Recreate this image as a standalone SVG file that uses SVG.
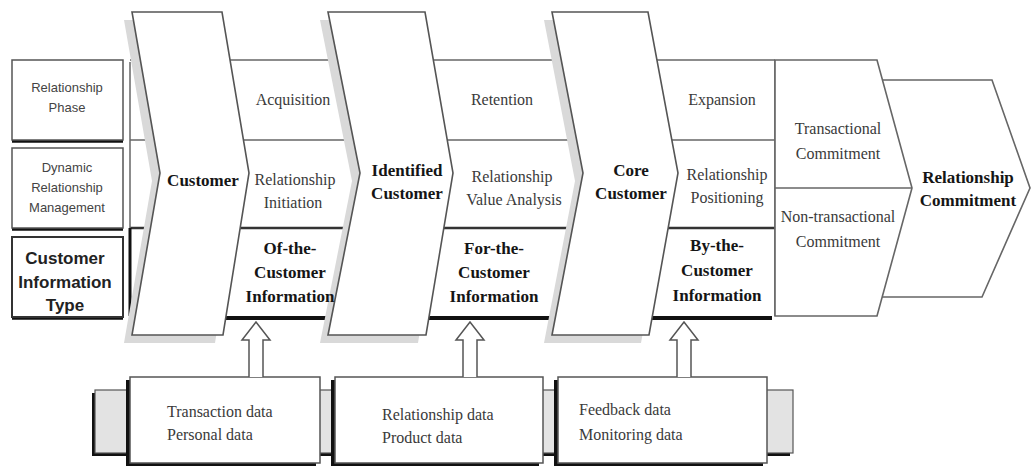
<svg xmlns="http://www.w3.org/2000/svg" width="1031" height="469" viewBox="0 0 1031 469">
<style>
.ser{font-family:"Liberation Serif","Times New Roman",serif;font-size:16px;fill:#3a3a3a;text-anchor:middle}
.serb{font-family:"Liberation Serif","Times New Roman",serif;font-size:17px;font-weight:bold;fill:#151515;text-anchor:middle}
.dat{font-family:"Liberation Serif","Times New Roman",serif;font-size:16px;fill:#3a3a3a}
.sans{font-family:"Liberation Sans",Arial,sans-serif;font-size:13px;fill:#444;text-anchor:middle}
.sansb{font-family:"Liberation Sans",Arial,sans-serif;font-size:17px;font-weight:bold;fill:#222;text-anchor:middle}
.box{fill:#fff;stroke:#555;stroke-width:1.5}
.thin{stroke:#666;stroke-width:1.5;fill:none}
.chev{fill:#fff;stroke:#555;stroke-width:1.6;stroke-linejoin:miter}
.shadow{fill:#d9d9d9}
.arrow{fill:#fff;stroke:#555;stroke-width:1.5}
</style>

<!-- left label boxes -->
<g id="label-phase">
<line x1="12" y1="141" x2="123" y2="141" stroke="#111" stroke-width="3.5"/>
<rect class="box" x="12" y="60" width="111" height="80"/>
<text class="sans" x="67" y="92">Relationship</text>
<text class="sans" x="67" y="112">Phase</text>
</g>
<g id="label-dynamic">
<line x1="12" y1="229" x2="123" y2="229" stroke="#111" stroke-width="3.5"/>
<rect class="box" x="12" y="148" width="111" height="80"/>
<text class="sans" x="67" y="172">Dynamic</text>
<text class="sans" x="67" y="192">Relationship</text>
<text class="sans" x="67" y="212">Management</text>
</g>
<g id="label-infotype">
<line x1="12" y1="318" x2="123" y2="318" stroke="#111" stroke-width="3.5"/>
<rect x="12" y="237" width="111" height="80" fill="#fff" stroke="#333" stroke-width="2"/>
<text class="sansb" x="65" y="264">Customer</text>
<text class="sansb" x="65" y="288">Information</text>
<text class="sansb" x="65" y="311">Type</text>
</g>

<!-- band behind the chevrons -->
<g id="band">
<line class="thin" x1="130" y1="60" x2="775" y2="60"/>
<line class="thin" x1="130" y1="140" x2="775" y2="140"/>
<line x1="130" y1="228" x2="775" y2="228" stroke="#333" stroke-width="2.5"/>
<line x1="130" y1="318" x2="772" y2="318" stroke="#111" stroke-width="4"/>
<line class="thin" x1="130" y1="62" x2="130" y2="228"/>
<line x1="130" y1="228" x2="130" y2="316" stroke="#111" stroke-width="3"/>
<line class="thin" x1="775" y1="60" x2="775" y2="316"/>
</g>

<!-- Relationship Commitment -->
<g id="relationship-commitment">
<polygon points="882,80 992,80 1030,188 982,297 882,297" fill="#fff" stroke="#666" stroke-width="1.6"/>
<text class="serb" x="968" y="183">Relationship</text>
<text class="serb" x="968" y="206">Commitment</text>
</g>

<!-- commitment region -->
<g id="commitment">
<polygon points="775,60 877,60 912,188 877,316 775,316" fill="#fff" stroke="#666" stroke-width="1.6"/>
<line class="thin" x1="775" y1="188" x2="912" y2="188"/>
<text class="ser" x="838" y="134">Transactional</text>
<text class="ser" x="838" y="159">Commitment</text>
<text class="ser" x="838" y="222">Non-transactional</text>
<text class="ser" x="838" y="247">Commitment</text>
</g>

<!-- chevrons -->
<g id="chevron-customer">
<polygon class="shadow" points="124,20 214,20 241,181 215,343 124,343 152,181"/>
<polygon class="chev" points="132,12 222,12 249,173 223,335 132,335 160,173"/>
<text class="serb" x="203" y="186">Customer</text>
</g>
<g id="chevron-identified">
<polygon class="shadow" points="320,20 417,20 445,181 418,343 320,343 352,181"/>
<polygon class="chev" points="328,12 425,12 453,173 426,335 328,335 360,173"/>
<text class="serb" x="407" y="176">Identified</text>
<text class="serb" x="407" y="199">Customer</text>
</g>
<g id="chevron-core">
<polygon class="shadow" points="544,20 640,20 670,181 641,343 544,343 575,181"/>
<polygon class="chev" points="552,12 648,12 678,173 649,335 552,335 583,173"/>
<text class="serb" x="631" y="176">Core</text>
<text class="serb" x="631" y="199">Customer</text>
</g>

<!-- band cell texts -->
<g id="cells-1">
<text class="ser" x="293" y="105">Acquisition</text>
<text class="ser" x="295" y="185">Relationship</text>
<text class="ser" x="293" y="208">Initiation</text>
<text class="serb" x="290" y="254">Of-the-</text>
<text class="serb" x="290" y="278">Customer</text>
<text class="serb" x="290" y="302">Information</text>
</g>
<g id="cells-2">
<text class="ser" x="502" y="105">Retention</text>
<text class="ser" x="512" y="182">Relationship</text>
<text class="ser" x="514" y="205">Value Analysis</text>
<text class="serb" x="494" y="254">For-the-</text>
<text class="serb" x="494" y="278">Customer</text>
<text class="serb" x="494" y="302">Information</text>
</g>
<g id="cells-3">
<text class="ser" x="722" y="105">Expansion</text>
<text class="ser" x="727" y="180">Relationship</text>
<text class="ser" x="727" y="203">Positioning</text>
<text class="serb" x="717" y="251">By-the-</text>
<text class="serb" x="717" y="276">Customer</text>
<text class="serb" x="717" y="301">Information</text>
</g>

<!-- data bar -->
<g id="data-bar">
<rect x="92" y="393" width="698" height="63" fill="#111"/>
<rect x="95" y="390" width="698" height="63" fill="#e3e3e3" stroke="#555" stroke-width="1.2"/>
</g>
<g id="data-1">
<rect x="126" y="380" width="190" height="86" fill="#111"/>
<rect class="box" x="130" y="377" width="190" height="86"/>
<text class="dat" x="167" y="417">Transaction data</text>
<text class="dat" x="167" y="440">Personal data</text>
</g>
<g id="data-2">
<rect x="331" y="380" width="208" height="86" fill="#111"/>
<rect class="box" x="335" y="377" width="208" height="86"/>
<text class="dat" x="382" y="420">Relationship data</text>
<text class="dat" x="382" y="443">Product data</text>
</g>
<g id="data-3">
<rect x="554" y="380" width="209" height="86" fill="#111"/>
<rect class="box" x="558" y="377" width="209" height="86"/>
<text class="dat" x="579" y="415">Feedback data</text>
<text class="dat" x="579" y="440">Monitoring data</text>
</g>

<!-- connectors -->
<g id="connectors">
<path class="arrow" d="M249,377 L249,340 L242,340 L256,322 L270,340 L263,340 L263,377"/>
<path class="arrow" d="M463,377 L463,340 L456,340 L470,322 L484,340 L477,340 L477,377"/>
<path class="arrow" d="M677,377 L677,340 L670,340 L684,322 L698,340 L691,340 L691,377"/>
</g>
</svg>
